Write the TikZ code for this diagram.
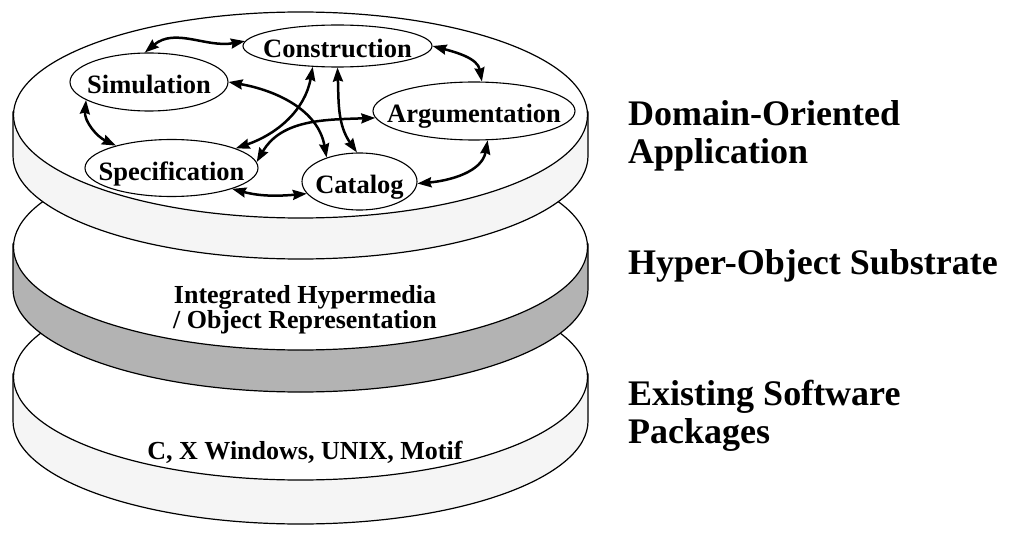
\documentclass[tikz,border=0pt]{standalone}
\usepackage{fontspec}
\setmainfont{Liberation Serif}
\usetikzlibrary{shapes.geometric, arrows.meta}
\definecolor{bandlight}{HTML}{F5F5F5}
\definecolor{banddark}{HTML}{B3B3B3}
\newcommand{\drawdisk}[4]{%
  \filldraw[diskline, fill=#3] (#1-287.5,-#2+3) -- (#1-287.5,-#2-#4)
     arc[start angle=180, end angle=360, x radius=287.5, y radius=103]
     -- (#1+287.5,-#2+3) -- cycle;
  \filldraw[diskline, fill=white] (#1,-#2) ellipse[x radius=287, y radius=103];
}
\newcommand{\nl}[1]{\makebox[0pt]{#1}}
\begin{document}
\begin{tikzpicture}[x=1pt,y=1pt,
  diskline/.style={line width=1.2pt, draw=black},
  lbl/.style={ellipse, draw, line width=1.1pt, fill=white, inner sep=0pt,
    text height=24pt, text depth=0pt, font=\bfseries\fontsize{26.5}{27}\selectfont},
  arr/.style={line width=2.5pt, {Stealth[length=14pt,width=10pt,inset=1.5pt]}-{Stealth[length=14pt,width=10pt,inset=1.5pt]}},
  mid/.style={align=center, inner sep=0pt, font=\bfseries\fontsize{26}{25}\selectfont},
  side/.style={anchor=west, align=left, inner sep=0pt, font=\bfseries\fontsize{36}{38}\selectfont}]
\useasboundingbox (0,0) rectangle (1016,-540);
\fill[white] (0,0) rectangle (1016,-540);

\drawdisk{300.5}{377}{bandlight}{44}
\drawdisk{300.5}{247}{banddark}{42}
\drawdisk{300.5}{115}{bandlight}{41}

\node[lbl, minimum width=189pt, minimum height=42pt] (con) at (337.5,-46) {\nl{Construction}};
\node[lbl, minimum width=158pt, minimum height=58pt] (sim) at (149,-82) {\nl{Simulation}};
\node[lbl, minimum width=173pt, minimum height=57pt] (spec) at (171.5,-168) {\nl{Specification}};
\node[lbl, minimum width=202pt, minimum height=58pt] (arg) at (474,-111) {\nl{Argumentation}};
\node[lbl, minimum width=115pt, minimum height=57pt] (cat) at (359.5,-181.5) {\nl{Catalog}};

\draw[arr] (sim.98) to[out=40,in=190] (con.177);
\draw[arr] (sim.196) to[out=-95,in=155] (spec.158);
\draw[arr] (sim.0) to[out=-10,in=100] (cat.144);
\draw[arr] (con.220) to[out=-100,in=19] (spec.17);
\draw[arr] (con.-90) to[out=-88,in=125] (cat.95);
\draw[arr] (arg.184) to[out=182,in=60] (spec.4);
\draw[arr] (con.0) to[out=-15,in=100] (arg.75);
\draw[arr] (arg.-65) to[out=-100,in=5] (cat.-2);
\draw[arr] (spec.-19) to[out=-15,in=185] (cat.193);

\node[mid] (t2) at (305,-310) {Integrated Hypermedia\\/ Object Representation};
\node[mid] (t3) at (305,-452) {C, X Windows, UNIX, Motif};

\node[side] (l1) at (628,-135.7) {Domain-Oriented\\Application};
\node[side] (l2) at (628,-265.7) {Hyper-Object Substrate};
\node[side] (l3) at (628,-415.7) {Existing Software\\Packages};
\end{tikzpicture}
\end{document}
